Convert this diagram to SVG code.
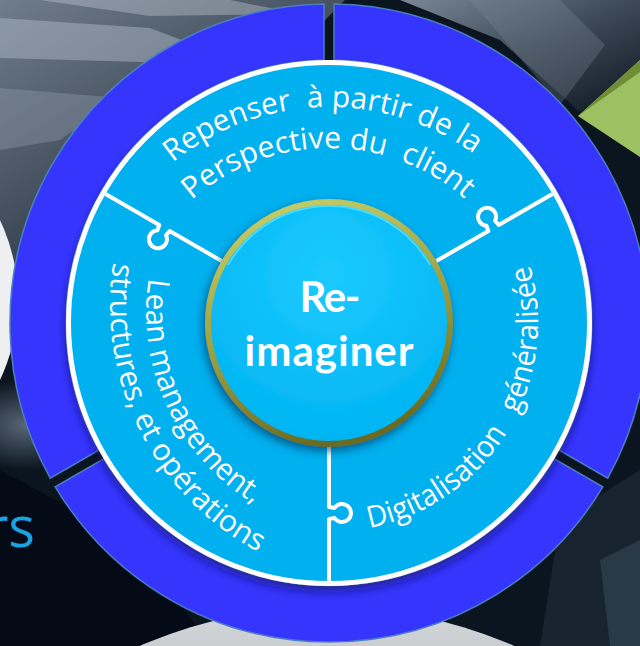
<svg xmlns="http://www.w3.org/2000/svg" width="640" height="646" viewBox="0 0 640 646">
<defs>
<style>
.seg{fill:#3535fe;stroke:#4c7fc0;stroke-width:1.5}
.ct{font-family:"Open Sans","DejaVu Sans",sans-serif;font-size:30px;fill:#ffffff;white-space:pre}
.div{fill:none;stroke:#ffffff;stroke-width:4;stroke-linejoin:round}
.title{font-family:Lato,"Open Sans",sans-serif;font-weight:700;font-size:42px;fill:#ffffff;text-anchor:middle}
</style>
<linearGradient id="bgTL" x1="0" y1="0" x2="0.6" y2="1"><stop offset="0" stop-color="#6f7d8c"/><stop offset="1" stop-color="#121c28"/></linearGradient>
<linearGradient id="bgTR" x1="0" y1="0" x2="1" y2="1"><stop offset="0" stop-color="#7a8896"/><stop offset="0.5" stop-color="#3b4856"/><stop offset="1" stop-color="#0d1620"/></linearGradient>
<linearGradient id="cres" x1="0" y1="0" x2="1" y2="0"><stop offset="0" stop-color="#c8ced4"/><stop offset="1" stop-color="#eef0f2"/></linearGradient>
<linearGradient id="arch" x1="0" y1="0" x2="0" y2="1"><stop offset="0" stop-color="#d6d9dc"/><stop offset="0.1" stop-color="#b9bdc1"/><stop offset="1" stop-color="#8c9196"/></linearGradient>
<radialGradient id="glow" cx="0.5" cy="0.5" r="0.5"><stop offset="0" stop-color="#6a7a8a" stop-opacity="0.8"/><stop offset="1" stop-color="#6a7a8a" stop-opacity="0"/></radialGradient>
<radialGradient id="cfill" cx="0.5" cy="0.3" r="0.7"><stop offset="0" stop-color="#1ccaff"/><stop offset="1" stop-color="#00b4f2"/></radialGradient>
<linearGradient id="gold" x1="0.2" y1="0" x2="0.5" y2="1"><stop offset="0" stop-color="#c6cf6a"/><stop offset="0.5" stop-color="#9ea242"/><stop offset="1" stop-color="#6a6a22"/></linearGradient>
<filter id="dsh" x="-20%" y="-20%" width="140%" height="140%"><feDropShadow dx="0" dy="6" stdDeviation="5" flood-color="#0d0d66" flood-opacity="0.6"/></filter>
<filter id="csh" x="-20%" y="-20%" width="140%" height="140%"><feDropShadow dx="-2" dy="4" stdDeviation="5" flood-color="#00406e" flood-opacity="0.75"/></filter>
<path id="p1" d="M172.6,162.6 A248,248 0 0 1 474.4,154.1"/>
<path id="p2" d="M191.8,200 A207,207 0 0 1 465.6,199.5"/>
<path id="p3" d="M148.8,278 A224,224 0 0 0 256,505"/>
<path id="p4" d="M113.2,262.6 A280,280 0 0 0 260.3,553.1"/>
<path id="p5" d="M369.6,528 A209,209 0 0 0 529.6,264.3"/>
<path id="knob" class="div" d="M124,0 L184,0 L185,-5.5 A9,9 0 1 1 195,-5.5 L196,0 L258,0"/>
</defs>

<g id="background">
<rect width="640" height="646" fill="#0b1520"/>
<polygon points="0,0 345,0 0,345" fill="url(#bgTL)"/>
<polygon points="0,18 150,28 265,72 140,62 0,58" fill="#a9b5c2" opacity="0.5"/>
<polygon points="40,0 230,0 300,14 150,16" fill="#c0cad4" opacity="0.4"/>
<polygon points="0,88 120,98 60,140 0,150" fill="#8e9cab" opacity="0.4"/>
<polygon points="400,0 640,0 640,70 580,112 500,40" fill="url(#bgTR)"/>
<polygon points="470,0 560,0 605,45 560,105" fill="#7d8b98" opacity="0.3"/>
<polygon points="578,116 640,60 640,157" fill="#9cc062"/>
<polygon points="578,116 640,60 640,72" fill="#708c34"/>
<circle cx="-168" cy="300" r="186" fill="url(#cres)"/>
<ellipse cx="25" cy="425" rx="70" ry="45" fill="url(#glow)"/>
<polygon points="0,470 140,545 210,646 0,646" fill="#050b16"/>
<circle cx="327" cy="1077" r="470" fill="url(#arch)"/>
<polygon points="560,520 640,470 640,646 540,646" fill="#17242f"/>
<polygon points="600,560 640,540 640,646 610,646" fill="#2a3946"/>
<text x="35" y="547" font-family="'Open Sans','DejaVu Sans',sans-serif" font-size="56" fill="#1aa3e4" text-anchor="end">rs</text>
</g>

<g id="ring">
<path id="ring-top-right" class="seg" d="M334,4.04 A319,319 0 0 1 607.73,478.15 L559.22,450.15 A263,263 0 0 0 334,60.05 Z"/>
<path id="ring-bottom" class="seg" d="M602.73,486.81 A319,319 0 0 1 55.27,486.81 L103.78,458.81 A263,263 0 0 0 554.22,458.81 Z"/>
<path id="ring-top-left" class="seg" d="M50.27,478.15 A319,319 0 0 1 324,4.04 L324,60.05 A263,263 0 0 0 98.78,450.15 Z"/>
</g>

<g id="puzzle">
<circle cx="329" cy="323" r="260.5" fill="#00b0ef" stroke="#ffffff" stroke-width="5" filter="url(#dsh)"/>
</g>

<g id="connectors">
<use href="#knob" transform="translate(329,323) rotate(210)"/>
<use href="#knob" transform="translate(329,323) rotate(-30)"/>
<use href="#knob" transform="translate(329,323) rotate(90)"/>
</g>

<g id="piece-client">
<text class="ct"><textPath href="#p1" textLength="324" lengthAdjust="spacingAndGlyphs">Repenser  à partir de la</textPath></text>
<text class="ct"><textPath href="#p2" textLength="298" lengthAdjust="spacingAndGlyphs">Perspective du  client</textPath></text>
</g>

<g id="piece-lean">
<text class="ct"><textPath href="#p3" textLength="264" lengthAdjust="spacingAndGlyphs">Lean management,</textPath></text>
<text class="ct"><textPath href="#p4" textLength="345" lengthAdjust="spacingAndGlyphs">structures, et opérations</textPath></text>
</g>

<g id="piece-digital">
<text class="ct"><textPath href="#p5" textLength="172" lengthAdjust="spacingAndGlyphs">Digitalisation</textPath></text>
<text class="ct"><textPath href="#p5" startOffset="193" textLength="153" lengthAdjust="spacingAndGlyphs">généralisée</textPath></text>
</g>

<g id="center">
<circle cx="329" cy="323" r="121" fill="url(#cfill)" stroke="url(#gold)" stroke-width="6" filter="url(#csh)"/>
<path d="M228,265 A116,116 0 0 1 430,265" fill="none" stroke="#5fe6ff" stroke-width="2" opacity="0.7"/>
<text class="title" x="330" y="312" textLength="61">Re-</text>
<text class="title" x="329" y="366" textLength="169">imaginer</text>
</g>
</svg>
